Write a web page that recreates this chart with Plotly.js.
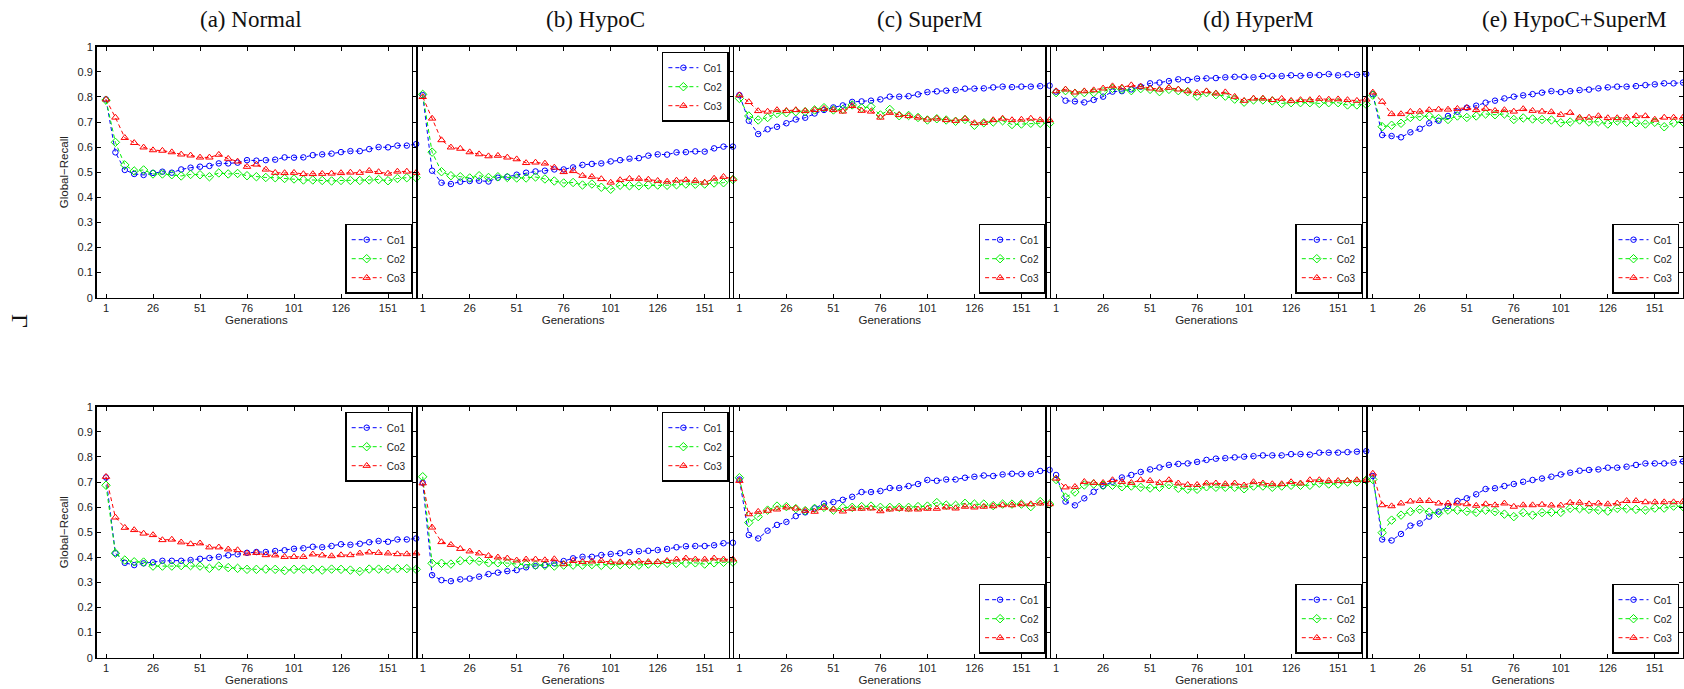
<!DOCTYPE html>
<html>
<head>
<meta charset="utf-8">
<script src="https://cdn.plot.ly/plotly-3.0.1.min.js"></script>
<style>html,body{margin:0;padding:0;background:#fff;}#chart{width:1684px;height:689px;}</style>
</head>
<body>
<div id="chart"></div>
<script>
// ---------- data ----------
const generations = [1,6,11,16,21,26,31,36,41,46,51,56,61,66,71,76,81,86,91,96,101,106,111,116,121,126,131,136,141,146,151,156,161,166];
const genTickVals = [1,26,51,76,101,126,151];
const genTickText = ['1','26','51','76','101','126','151'];
const recallTickVals = [0,0.1,0.2,0.3,0.4,0.5,0.6,0.7,0.8,0.9,1];
const recallTickText = ['0','0.1','0.2','0.3','0.4','0.5','0.6','0.7','0.8','0.9','1'];
const panelTitles = ['(a) Normal','(b) HypoC','(c) SuperM','(d) HyperM','(e) HypoC+SuperM'];
const seriesNames = ['Co1','Co2','Co3'];

// top row
const a1_co1 = [0.79,0.579,0.509,0.493,0.489,0.497,0.502,0.498,0.511,0.518,0.522,0.525,0.535,0.535,0.538,0.548,0.546,0.548,0.55,0.559,0.558,0.559,0.568,0.571,0.574,0.58,0.584,0.584,0.592,0.6,0.599,0.606,0.606,0.612];
const a1_co2 = [0.787,0.619,0.529,0.505,0.509,0.493,0.493,0.49,0.485,0.491,0.49,0.482,0.497,0.493,0.495,0.486,0.482,0.479,0.478,0.475,0.473,0.469,0.469,0.467,0.465,0.467,0.467,0.467,0.469,0.471,0.466,0.475,0.478,0.478];
const a1_co3 = [0.79,0.718,0.637,0.617,0.599,0.588,0.586,0.58,0.571,0.567,0.559,0.559,0.57,0.554,0.543,0.522,0.531,0.511,0.498,0.497,0.498,0.493,0.493,0.494,0.495,0.497,0.499,0.498,0.506,0.501,0.495,0.503,0.503,0.498];
const b1_co1 = [0.807,0.506,0.458,0.453,0.462,0.465,0.466,0.463,0.478,0.482,0.49,0.498,0.503,0.506,0.511,0.511,0.519,0.529,0.533,0.535,0.543,0.548,0.554,0.556,0.566,0.571,0.57,0.579,0.58,0.583,0.582,0.595,0.602,0.602];
const b1_co2 = [0.81,0.58,0.502,0.486,0.482,0.477,0.486,0.479,0.482,0.479,0.477,0.477,0.481,0.473,0.465,0.457,0.459,0.449,0.453,0.44,0.432,0.448,0.446,0.446,0.449,0.449,0.448,0.45,0.453,0.452,0.453,0.457,0.458,0.471];
const b1_co3 = [0.8,0.714,0.628,0.599,0.594,0.58,0.572,0.564,0.566,0.559,0.552,0.537,0.539,0.535,0.519,0.501,0.505,0.486,0.482,0.473,0.459,0.469,0.474,0.474,0.471,0.466,0.463,0.467,0.469,0.466,0.459,0.475,0.482,0.473];
const c1_co1 = [0.807,0.705,0.652,0.671,0.681,0.695,0.71,0.717,0.734,0.748,0.758,0.766,0.78,0.782,0.785,0.79,0.801,0.801,0.803,0.81,0.819,0.822,0.825,0.827,0.833,0.833,0.834,0.838,0.841,0.839,0.841,0.841,0.843,0.845];
const c1_co2 = [0.794,0.724,0.708,0.718,0.734,0.737,0.741,0.741,0.748,0.757,0.748,0.75,0.768,0.756,0.761,0.728,0.75,0.725,0.726,0.718,0.708,0.713,0.708,0.703,0.71,0.687,0.697,0.7,0.705,0.69,0.692,0.695,0.695,0.695];
const c1_co3 = [0.807,0.78,0.744,0.742,0.748,0.745,0.748,0.744,0.748,0.753,0.748,0.742,0.764,0.745,0.742,0.718,0.737,0.728,0.724,0.718,0.71,0.714,0.708,0.705,0.713,0.696,0.697,0.708,0.714,0.708,0.71,0.714,0.708,0.708];
const d1_co1 = [0.821,0.785,0.782,0.778,0.788,0.801,0.821,0.823,0.83,0.841,0.854,0.857,0.863,0.87,0.867,0.873,0.874,0.875,0.878,0.88,0.88,0.878,0.883,0.883,0.883,0.886,0.884,0.887,0.887,0.891,0.886,0.89,0.888,0.891];
const d1_co2 = [0.817,0.825,0.814,0.817,0.817,0.821,0.834,0.83,0.825,0.833,0.83,0.821,0.83,0.825,0.821,0.803,0.817,0.809,0.803,0.791,0.779,0.788,0.788,0.784,0.774,0.777,0.777,0.777,0.774,0.777,0.777,0.768,0.768,0.77];
const d1_co3 = [0.823,0.83,0.818,0.823,0.827,0.834,0.843,0.838,0.847,0.841,0.834,0.83,0.837,0.83,0.823,0.817,0.823,0.814,0.819,0.801,0.785,0.794,0.794,0.788,0.793,0.785,0.788,0.788,0.793,0.79,0.791,0.788,0.785,0.79];
const e1_co1 = [0.811,0.648,0.644,0.639,0.659,0.673,0.695,0.705,0.724,0.741,0.757,0.765,0.777,0.785,0.794,0.801,0.806,0.811,0.817,0.823,0.819,0.823,0.827,0.829,0.834,0.838,0.841,0.841,0.843,0.847,0.85,0.854,0.854,0.857];
const e1_co2 = [0.807,0.681,0.687,0.695,0.718,0.721,0.724,0.714,0.71,0.724,0.718,0.724,0.732,0.729,0.732,0.71,0.716,0.712,0.71,0.708,0.697,0.7,0.708,0.7,0.701,0.692,0.704,0.699,0.697,0.692,0.699,0.681,0.697,0.701];
const e1_co3 = [0.818,0.781,0.732,0.732,0.741,0.742,0.748,0.75,0.75,0.753,0.756,0.748,0.753,0.745,0.748,0.742,0.752,0.745,0.742,0.74,0.729,0.737,0.718,0.718,0.724,0.716,0.716,0.718,0.724,0.724,0.71,0.718,0.718,0.718];
// bottom row
const a2_co1 = [0.718,0.416,0.378,0.369,0.376,0.38,0.386,0.386,0.386,0.389,0.394,0.397,0.402,0.408,0.412,0.418,0.421,0.421,0.425,0.428,0.434,0.436,0.442,0.44,0.445,0.452,0.45,0.454,0.46,0.465,0.462,0.471,0.471,0.475];
const a2_co2 = [0.687,0.416,0.389,0.382,0.381,0.365,0.365,0.365,0.367,0.367,0.365,0.356,0.365,0.359,0.356,0.352,0.352,0.353,0.352,0.347,0.352,0.353,0.352,0.349,0.353,0.352,0.349,0.344,0.353,0.353,0.352,0.355,0.355,0.352];
const a2_co3 = [0.721,0.559,0.518,0.509,0.495,0.489,0.469,0.471,0.46,0.453,0.456,0.44,0.44,0.432,0.429,0.416,0.418,0.409,0.408,0.402,0.402,0.402,0.412,0.408,0.405,0.409,0.409,0.416,0.42,0.418,0.416,0.413,0.413,0.416];
const b2_co1 = [0.697,0.329,0.309,0.305,0.312,0.315,0.323,0.333,0.339,0.345,0.349,0.36,0.365,0.369,0.376,0.385,0.396,0.402,0.402,0.409,0.413,0.416,0.421,0.424,0.426,0.429,0.433,0.44,0.444,0.445,0.445,0.448,0.456,0.458];
const b2_co2 = [0.721,0.376,0.376,0.373,0.386,0.388,0.384,0.378,0.378,0.377,0.373,0.372,0.369,0.368,0.365,0.369,0.369,0.369,0.371,0.368,0.369,0.371,0.372,0.369,0.373,0.376,0.376,0.376,0.376,0.378,0.373,0.378,0.38,0.381];
const b2_co3 = [0.695,0.519,0.461,0.45,0.434,0.424,0.416,0.406,0.4,0.396,0.388,0.392,0.392,0.389,0.393,0.373,0.386,0.382,0.384,0.386,0.381,0.381,0.38,0.384,0.382,0.382,0.386,0.392,0.396,0.392,0.392,0.396,0.392,0.392];
const c2_co1 = [0.71,0.489,0.475,0.506,0.529,0.541,0.564,0.579,0.595,0.614,0.62,0.629,0.641,0.66,0.66,0.664,0.676,0.676,0.684,0.692,0.708,0.705,0.71,0.71,0.717,0.721,0.726,0.724,0.73,0.733,0.732,0.732,0.744,0.748];
const c2_co2 = [0.717,0.538,0.562,0.588,0.604,0.602,0.594,0.586,0.595,0.599,0.588,0.598,0.599,0.602,0.604,0.599,0.599,0.599,0.599,0.602,0.604,0.618,0.608,0.607,0.615,0.612,0.612,0.606,0.612,0.612,0.612,0.602,0.622,0.612];
const c2_co3 = [0.705,0.572,0.582,0.586,0.591,0.599,0.595,0.586,0.582,0.598,0.591,0.583,0.594,0.594,0.595,0.584,0.591,0.594,0.591,0.591,0.594,0.594,0.599,0.595,0.602,0.599,0.602,0.604,0.608,0.608,0.612,0.612,0.615,0.612];
const d2_co1 = [0.728,0.622,0.607,0.635,0.661,0.684,0.701,0.718,0.728,0.74,0.75,0.758,0.768,0.772,0.774,0.78,0.788,0.793,0.795,0.798,0.801,0.803,0.806,0.806,0.806,0.811,0.811,0.809,0.817,0.817,0.817,0.819,0.821,0.823];
const d2_co2 = [0.71,0.639,0.66,0.688,0.692,0.687,0.687,0.681,0.684,0.679,0.676,0.679,0.689,0.675,0.671,0.671,0.681,0.679,0.679,0.679,0.673,0.684,0.684,0.679,0.684,0.687,0.687,0.687,0.695,0.692,0.692,0.7,0.701,0.708];
const d2_co3 = [0.714,0.679,0.681,0.701,0.697,0.697,0.708,0.701,0.697,0.708,0.705,0.697,0.708,0.695,0.689,0.689,0.695,0.695,0.692,0.695,0.687,0.7,0.695,0.692,0.692,0.7,0.695,0.708,0.708,0.705,0.705,0.705,0.708,0.708];
const e2_co1 = [0.724,0.471,0.467,0.493,0.526,0.535,0.562,0.582,0.604,0.625,0.635,0.651,0.672,0.675,0.684,0.692,0.701,0.708,0.714,0.721,0.73,0.737,0.745,0.748,0.75,0.757,0.757,0.761,0.768,0.774,0.774,0.774,0.777,0.782];
const e2_co2 = [0.71,0.498,0.548,0.568,0.582,0.591,0.58,0.575,0.588,0.588,0.583,0.579,0.588,0.582,0.572,0.562,0.578,0.568,0.578,0.579,0.579,0.595,0.594,0.591,0.588,0.584,0.595,0.594,0.591,0.588,0.596,0.596,0.604,0.602];
const e2_co3 = [0.734,0.608,0.604,0.615,0.623,0.625,0.625,0.615,0.615,0.615,0.612,0.606,0.612,0.608,0.615,0.602,0.608,0.608,0.61,0.607,0.607,0.618,0.618,0.612,0.615,0.612,0.615,0.625,0.625,0.62,0.62,0.62,0.62,0.622];

const panelSeries = [
  [[a1_co1,a1_co2,a1_co3],[b1_co1,b1_co2,b1_co3],[c1_co1,c1_co2,c1_co3],[d1_co1,d1_co2,d1_co3],[e1_co1,e1_co2,e1_co3]],
  [[a2_co1,a2_co2,a2_co3],[b2_co1,b2_co2,b2_co3],[c2_co1,c2_co2,c2_co3],[d2_co1,d2_co2,d2_co3],[e2_co1,e2_co2,e2_co3]]
];
const legendPlace = [['bottom','top','bottom','bottom','bottom'],['top','top','bottom','bottom','bottom']];

// ---------- layout geometry (pixels) ----------
const W = 1684, H = 689;
const tick1Px = [106, 422.7, 739.4, 1056.1, 1372.8];
const pxPerGen = 1.88;
const xMin = -4, xMax = 166;
const rowPx = [{top:46.7, bottom:297.7},{top:406.7, bottom:657.7}];
const titleCenters = [251, 595, 930, 1258, 1574];

const colors = ['#0000ff','#00ee00','#ff0000'];
const symbols = ['circle-open','diamond-open','triangle-up-open'];
const msizes = [5.5,6.5,6.5];

const traces = [];
const layout = {
  width: W, height: H,
  margin: {l:0, r:0, t:0, b:0},
  paper_bgcolor: '#ffffff',
  plot_bgcolor: 'rgba(0,0,0,0)',
  font: {family: 'Liberation Sans, Arial, sans-serif', size: 11, color: '#222'},
  annotations: [],
  showlegend: true
};

for (let r = 0; r < 2; r++) {
  for (let c = 0; c < 5; c++) {
    const idx = r*5 + c + 1;
    const xn = idx === 1 ? 'x' : 'x' + idx;
    const yn = idx === 1 ? 'y' : 'y' + idx;
    const legName = idx === 1 ? 'legend' : 'legend' + idx;
    const left = tick1Px[c] - (1 - xMin) * pxPerGen;
    const right = left + (xMax - xMin) * pxPerGen;
    const yTop = rowPx[r].top, yBot = rowPx[r].bottom;

    for (let s = 0; s < 3; s++) {
      traces.push({
        type: 'scatter', mode: 'lines+markers',
        x: generations, y: panelSeries[r][c][s],
        name: seriesNames[s],
        xaxis: xn, yaxis: yn, legend: legName,
        cliponaxis: false,
        line: {color: colors[s], width: 1, dash: '4px,3px'},
        marker: {symbol: symbols[s], size: msizes[s], color: colors[s], line: {color: colors[s], width: 1}}
      });
    }

    layout['xaxis' + (idx === 1 ? '' : idx)] = {
      domain: [left / W, right / W],
      range: [xMin, xMax],
      anchor: yn,
      tickmode: 'array', tickvals: genTickVals, ticktext: genTickText,
      ticks: 'inside', ticklen: 4, tickwidth: 1, tickcolor: '#000',
      showline: true, linecolor: '#000', linewidth: 1.5, mirror: 'allticks',
      showgrid: false, zeroline: false,
      tickfont: {size: 11, color: '#222'},
      title: {text: 'Generations', font: {size: 11.5, color: '#222'}, standoff: 2},
      fixedrange: true
    };
    layout['yaxis' + (idx === 1 ? '' : idx)] = {
      domain: [1 - yBot / H, 1 - yTop / H],
      range: [0, 1],
      anchor: xn,
      tickmode: 'array', tickvals: recallTickVals, ticktext: recallTickText,
      showticklabels: c === 0,
      ticks: 'inside', ticklen: 4, tickwidth: 1, tickcolor: '#000',
      showline: true, linecolor: '#000', linewidth: 1.5, mirror: 'allticks',
      showgrid: false, zeroline: false,
      tickfont: {size: 11, color: '#222'},
      title: c === 0 ? {text: 'Global\u2212Recall', font: {size: 11.5, color: '#222'}, standoff: 6} : {text: ''},
      fixedrange: true
    };

    const place = legendPlace[r][c];
    layout[legName] = {
      x: (right - 4) / W, xanchor: 'right', xref: 'paper',
      y: place === 'bottom' ? 1 - (yBot - 4) / H : 1 - (yTop + 5) / H,
      yanchor: place === 'bottom' ? 'bottom' : 'top', yref: 'paper',
      bgcolor: '#ffffff', bordercolor: '#000', borderwidth: 1.5,
      font: {size: 10, color: '#222'},
      itemwidth: 30, tracegroupgap: 0, traceorder: 'normal'
    };
  }
}

for (let c = 0; c < 5; c++) {
  layout.annotations.push({
    text: panelTitles[c], xref: 'paper', yref: 'paper',
    x: titleCenters[c] / W, y: 1 - 19 / H, xanchor: 'center', yanchor: 'middle',
    showarrow: false, font: {family: 'Liberation Serif, Times New Roman, serif', size: 23, color: '#111'}
  });
}
layout.annotations.push({
  text: '\u0393', xref: 'paper', yref: 'paper',
  x: 20 / W, y: 1 - 321 / H, xanchor: 'center', yanchor: 'middle',
  textangle: 90, showarrow: false,
  font: {family: 'Liberation Serif, Times New Roman, serif', size: 24, color: '#111'}
});

Plotly.newPlot('chart', traces, layout, {displayModeBar: false, staticPlot: true});
</script>
</body>
</html>
